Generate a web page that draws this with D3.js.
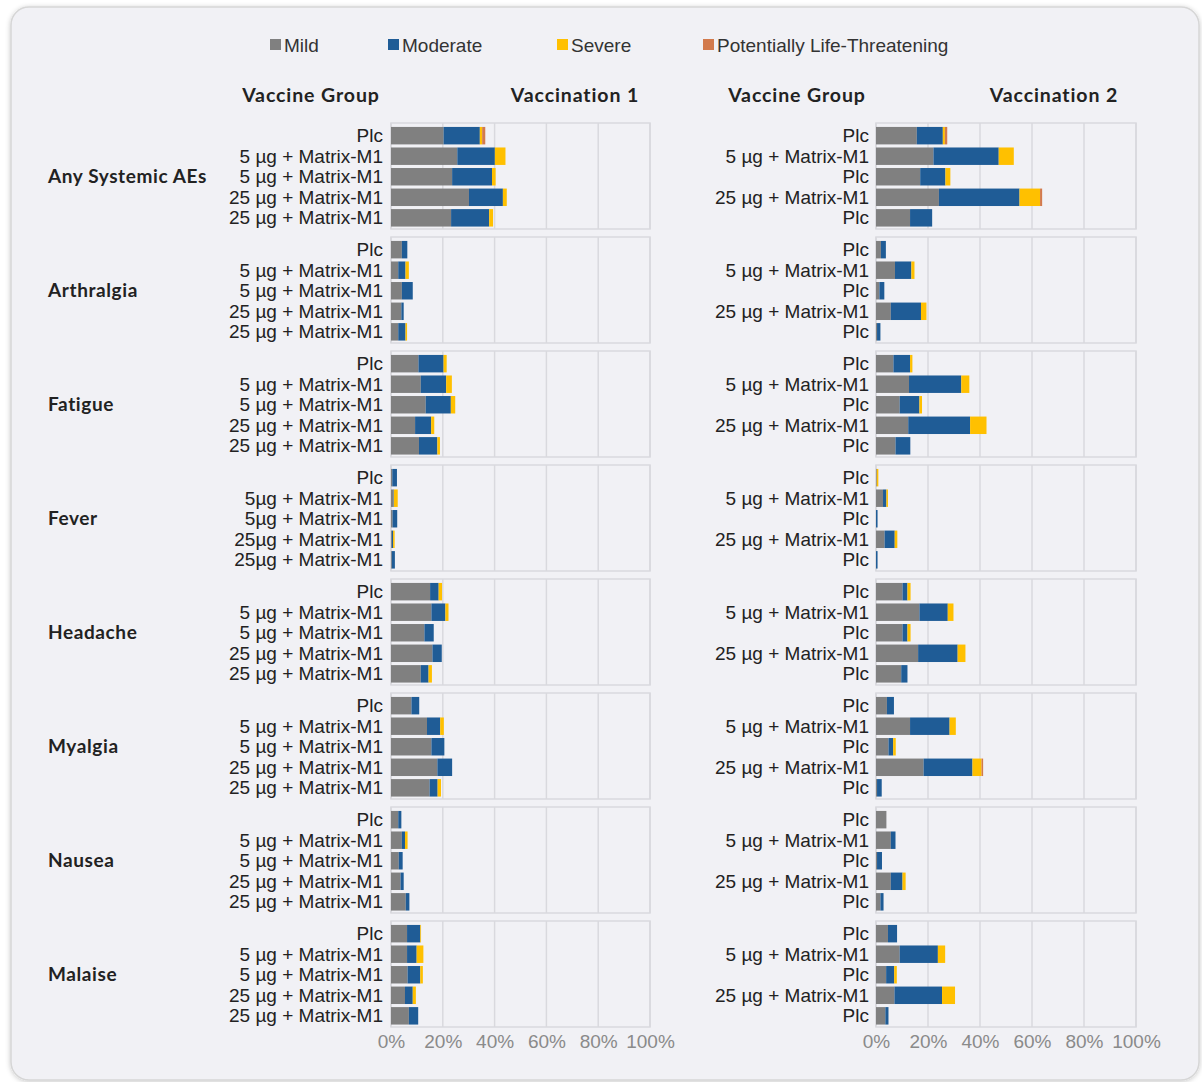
<!DOCTYPE html>
<html><head><meta charset="utf-8">
<script src="https://cdn.jsdelivr.net/npm/d3@7"></script>
<style>
body{margin:0;background:#fff;}
svg text{font-family:"Liberation Sans",Arial,sans-serif;}
</style>
</head><body>
<svg id="chart" width="1202" height="1082"></svg>
<script>
// ---------------- DATA ----------------
const categories = ["Any Systemic AEs","Arthralgia","Fatigue","Fever","Headache","Myalgia","Nausea","Malaise"];
const severities = ["Mild","Moderate","Severe","Potentially Life-Threatening"];
const severityColors = ["#808080","#1f5c96","#ffc000","#d27a4c"];
const groupsV1 = ["Plc","5 µg + Matrix-M1","5 µg + Matrix-M1","25 µg + Matrix-M1","25 µg + Matrix-M1"];
const groupsV1Fever = ["Plc","5µg + Matrix-M1","5µg + Matrix-M1","25µg + Matrix-M1","25µg + Matrix-M1"];
const groupsV2 = ["Plc","5 µg + Matrix-M1","Plc","25 µg + Matrix-M1","Plc"];
const tickValues = [0,20,40,60,80,100];
const headers = ["Vaccine Group","Vaccination 1","Vaccine Group","Vaccination 2"];

// Vaccination 1 (% of participants), rows per category in order of groupsV1
const mildV1 = [
  [20.3,25.6,23.6,30.1,23.2],
  [4.2,2.8,4.2,4.0,2.8],
  [10.6,11.5,13.4,9.3,10.8],
  [0.5,0.9,0.6,0.3,0.3],
  [15.1,15.6,12.9,16.0,11.5],
  [7.9,13.9,15.6,17.9,14.9],
  [2.8,4.2,3.0,3.7,5.7],
  [6.2,6.2,6.4,5.4,6.9]
];
const moderateV1 = [
  [14.0,14.5,15.4,13.1,14.7],
  [2.1,2.8,4.2,0.9,2.8],
  [9.7,9.8,9.7,6.2,7.1],
  [1.8,0.2,1.8,0.5,1.2],
  [3.3,5.4,3.6,3.6,3.0],
  [3.0,5.1,5.0,5.7,3.1],
  [1.2,1.2,1.5,1.2,1.4],
  [5.1,3.7,4.9,3.0,3.6]
];
const severeV1 = [
  [0.9,4.1,1.4,1.5,1.5],
  [0,1.3,0,0,0.6],
  [1.2,2.2,1.7,1.2,1.0],
  [0,1.5,0,0.6,0],
  [1.3,1.2,0,0,1.3],
  [0,1.4,0,0,1.3],
  [0,1.0,0,0,0],
  [0.3,2.6,1.0,1.2,0]
];
const pltV1 = [
  [1.2,0,0,0,0],
  [0,0,0,0,0],
  [0,0,0,0,0],
  [0,0,0,0,0],
  [0,0,0,0,0],
  [0,0,0,0,0],
  [0,0,0,0,0],
  [0,0,0,0,0]
];

// Vaccination 2, rows per category in order of groupsV2
const mildV2 = [
  [15.7,22.1,17.0,24.2,13.1],
  [1.9,7.3,1.3,5.7,0.4],
  [6.7,12.7,9.1,12.4,7.5],
  [0.3,2.7,0,3.3,0],
  [10.2,16.7,10.2,16.2,9.7],
  [4.2,13.1,4.8,18.3,0.4],
  [4.0,5.7,0.4,5.7,1.7],
  [4.6,9.1,3.9,7.1,3.6]
];
const moderateV2 = [
  [10.0,25.1,9.7,31.0,8.5],
  [1.9,6.3,1.9,11.6,1.3],
  [6.4,20.1,7.6,23.8,5.7],
  [0,1.3,0.6,3.9,0.6],
  [1.9,10.9,1.9,15.2,2.4],
  [2.7,15.2,1.8,18.8,1.8],
  [0,1.8,1.9,4.5,1.2],
  [3.5,14.7,3.1,18.3,1.2]
];
const severeV2 = [
  [0.8,5.8,1.9,7.9,0],
  [0,1.2,0,2.1,0],
  [0.9,3.1,1.0,6.3,0],
  [0.6,0.6,0,1.0,0],
  [1.2,2.2,1.2,3.0,0],
  [0,2.4,1.0,3.5,0],
  [0,0,0,1.2,0],
  [0,2.8,1.0,5.0,0]
];
const pltV2 = [
  [0.9,0,0,0.8,0],
  [0,0,0,0,0],
  [0,0,0,0,0],
  [0,0,0,0,0],
  [0,0,0,0,0],
  [0,0,0,0.6,0],
  [0,0,0,0,0],
  [0,0,0,0,0]
];

// ---------------- LAYOUT ----------------
const svg = d3.select("#chart");
const defs = svg.append("defs");
const f = defs.append("filter").attr("id","shadow").attr("x","-5%").attr("y","-5%").attr("width","110%").attr("height","110%");
f.append("feDropShadow").attr("dx",0).attr("dy",1).attr("stdDeviation",2.5).attr("flood-color","#000").attr("flood-opacity",0.22);

svg.append("rect").attr("x",11).attr("y",7).attr("width",1188).attr("height",1073)
  .attr("rx",18).attr("fill","#f1f1f5").attr("stroke","#d6d6d6").attr("stroke-width",1.5)
  .attr("filter","url(#shadow)");

const panelTop0 = 123, panelStep = 114, panelH = 106;
const sides = [
  {x0:391, w:259, labelX:383, groups:groupsV1, data:[mildV1,moderateV1,severeV1,pltV1]},
  {x0:876, w:260, labelX:869, groups:groupsV2, data:[mildV2,moderateV2,severeV2,pltV2]}
];

// Legend
const legendX = [270,388,557,703];
const lg = svg.append("g");
severities.forEach((s,i)=>{
  lg.append("rect").attr("x",legendX[i]).attr("y",39).attr("width",11).attr("height",11).attr("fill",severityColors[i]);
  lg.append("text").attr("x",legendX[i]+14).attr("y",45).attr("dy","0.35em")
    .attr("font-size",19).attr("fill","#333").text(s);
});

// Headers
const headerX = [311,575,797,1054];
headers.forEach((h,i)=>{
  svg.append("text").attr("x",headerX[i]).attr("y",95).attr("dy","0.35em")
    .attr("text-anchor","middle").attr("font-size",19.5).attr("font-weight","bold")
    .attr("letter-spacing",0.9)
    .style("font-family","Lato, 'DejaVu Sans', sans-serif").attr("fill","#222").text(h);
});

sides.forEach((side, si)=>{
  const x = d3.scaleLinear().domain([0,100]).range([side.x0, side.x0+side.w]);
  categories.forEach((cat, ci)=>{
    const top = panelTop0 + ci*panelStep;
    const y = d3.scaleBand().domain(d3.range(5)).range([top+2.5, top+2.5+102.5]).paddingInner(0.15).paddingOuter(0.07);
    const g = svg.append("g");
    // panel frame
    g.append("rect").attr("x",side.x0).attr("y",top).attr("width",side.w).attr("height",panelH)
      .attr("fill","#f1f1f5").attr("stroke","#d9d9de").attr("stroke-width",1.5);
    // grid
    g.selectAll("line.grid").data(tickValues).join("line")
      .attr("x1",d=>x(d)).attr("x2",d=>x(d)).attr("y1",top).attr("y2",top+panelH)
      .attr("stroke","#d9d9de").attr("stroke-width",1.5);
    // stacked bars
    const rows = d3.range(5).map(r=>{
      const o = {r};
      severities.forEach((s,k)=>{ o[s] = side.data[k][ci][r]; });
      return o;
    });
    const stacked = d3.stack().keys(severities)(rows);
    stacked.forEach((layer,k)=>{
      g.selectAll(null).data(layer).join("rect")
        .attr("x",d=>x(d[0])).attr("width",d=>Math.max(0,x(d[1])-x(d[0])))
        .attr("y",d=>y(d.data.r)).attr("height",y.bandwidth())
        .attr("fill",severityColors[k]);
    });
    // row labels
    const labels = (si===0 && cat==="Fever") ? groupsV1Fever : side.groups;
    g.selectAll("text.rl").data(labels).join("text")
      .attr("x",side.labelX).attr("y",(d,i)=>y(i)+y.bandwidth()/2).attr("dy","0.35em")
      .attr("text-anchor","end").attr("font-size",19).attr("fill","#222").text(d=>d);
    // category label
    if(si===0){
      svg.append("text").attr("x",48).attr("y",top+53).attr("dy","0.35em")
        .attr("font-size",19).attr("font-weight","bold").attr("letter-spacing",0.6)
        .style("font-family","Lato, 'DejaVu Sans', sans-serif").attr("fill","#222").text(cat);
    }
  });
  // x axis ticks
  const axisY = 1043;
  const ax = d3.axisBottom(x).tickValues(tickValues).tickFormat(d=>d+"%").tickSize(0);
  const axg = svg.append("g").attr("transform",`translate(0,${axisY-12})`).call(ax);
  axg.select(".domain").remove();
  axg.selectAll("text").attr("font-size",19).attr("fill","#8a8a8a")
    .style("font-family","'Liberation Sans',Arial,sans-serif");
});
</script>
</body></html>
